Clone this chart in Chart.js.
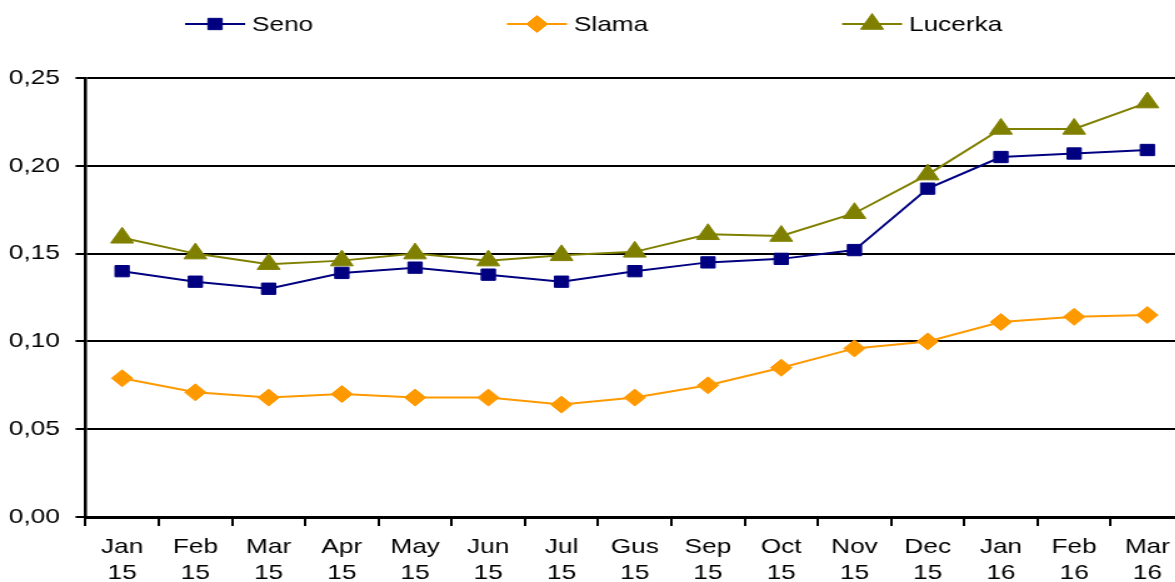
<!DOCTYPE html>
<html>
<head>
<meta charset="utf-8">
<script src="https://cdn.jsdelivr.net/npm/chart.js@4/dist/chart.umd.min.js"></script>
<style>
  html, body { margin: 0; padding: 0; background: #fff; overflow: hidden; }
  #wrap { width: 1175px; height: 582px; overflow: hidden; }
  #graf { display: block; }
</style>
</head>
<body>
<!-- original graf je vodoravno rastegnut (~1.25x), pa se canvas rasteže preko CSS sirine -->
<div id="wrap"><canvas id="graf" width="947" height="582" style="width:1183.75px;height:582px"></canvas></div>
<script>
// mjeseci (dvije linije: mjesec / godina)
const mjeseci = [['Jan','15'],['Feb','15'],['Mar','15'],['Apr','15'],['May','15'],['Jun','15'],['Jul','15'],
                 ['Gus','15'],['Sep','15'],['Oct','15'],['Nov','15'],['Dec','15'],['Jan','16'],['Feb','16'],['Mar','16']];
const seno    = [0.140, 0.134, 0.130, 0.139, 0.142, 0.138, 0.134, 0.140, 0.145, 0.147, 0.152, 0.187, 0.205, 0.207, 0.209];
const slama   = [0.079, 0.071, 0.068, 0.070, 0.068, 0.068, 0.064, 0.068, 0.075, 0.085, 0.096, 0.100, 0.111, 0.114, 0.115];
const lucerka = [0.159, 0.150, 0.144, 0.146, 0.150, 0.146, 0.149, 0.151, 0.161, 0.160, 0.173, 0.195, 0.221, 0.221, 0.236];
const yTicks  = [0, 0.05, 0.10, 0.15, 0.20, 0.25];

const FONT = 'Liberation Sans, Arial, sans-serif';

// legenda iznad grafa: linija + marker + tekst
const legendaPlugin = {
  id: 'legenda',
  afterDraw(chart) {
    const ctx = chart.ctx;
    const poz = [148, 405.5, 673.5];
    ctx.save();
    chart.data.datasets.forEach((ds, i) => {
      const x0 = poz[i], y = 24;
      ctx.strokeStyle = ds.borderColor;
      ctx.lineWidth = 2;
      ctx.beginPath();
      ctx.moveTo(x0, y);
      ctx.lineTo(x0 + 48, y);
      ctx.stroke();
      ctx.fillStyle = ds.backgroundColor;
      ctx.lineWidth = 1;
      Chart.helpers.drawPoint(ctx, { pointStyle: ds.pointStyle, radius: ds.pointRadius, borderWidth: 1 }, x0 + 24, y);
      ctx.fillStyle = '#000';
      ctx.font = '21px ' + FONT;
      ctx.textBaseline = 'middle';
      ctx.textAlign = 'left';
      ctx.fillText(ds.label, x0 + 53.5, y + 1);
    });
    ctx.restore();
  }
};

new Chart(document.getElementById('graf'), {
  type: 'line',
  data: {
    labels: mjeseci,
    datasets: [
      { label: 'Seno', data: seno, borderColor: '#000080', backgroundColor: '#000080',
        borderWidth: 2, pointStyle: 'rect', pointRadius: 8, pointBorderWidth: 1 },
      { label: 'Slama', data: slama, borderColor: '#FF9900', backgroundColor: '#FF9900',
        borderWidth: 2, pointStyle: 'rectRot', pointRadius: 8.5, pointBorderWidth: 1 },
      { label: 'Lucerka', data: lucerka, borderColor: '#808000', backgroundColor: '#808000',
        borderWidth: 2, pointStyle: 'triangle', pointRadius: 10.5, pointBorderWidth: 1 }
    ]
  },
  options: {
    responsive: false,
    animation: false,
    layout: { autoPadding: false, padding: { top: 78, right: 0, left: 0, bottom: 0 } },
    plugins: { legend: { display: false }, tooltip: { enabled: false } },
    scales: {
      x: {
        offset: true,
        grid: { display: true, drawOnChartArea: false, offset: true, color: '#000', lineWidth: 2, tickLength: 9 },
        border: { color: '#000', width: 3 },
        ticks: { color: '#000', font: { family: FONT, size: 21, lineHeight: 1.2 }, padding: 9, maxRotation: 0, autoSkip: false },
        afterFit(s) { s.height = 65; }
      },
      y: {
        min: 0, max: 0.25,
        afterBuildTicks(s) { s.ticks = yTicks.map(v => ({ value: v })); },
        grid: { color: '#000', lineWidth: 2, tickLength: 8 },
        border: { color: '#000', width: 2.5 },
        ticks: { color: '#000', font: { family: FONT, size: 21 }, padding: 12.5,
                 callback: v => v.toFixed(2).replace('.', ',') },
        afterFit(s) { s.width = 68.4; }
      }
    }
  },
  plugins: [legendaPlugin]
});
</script>
</body>
</html>
